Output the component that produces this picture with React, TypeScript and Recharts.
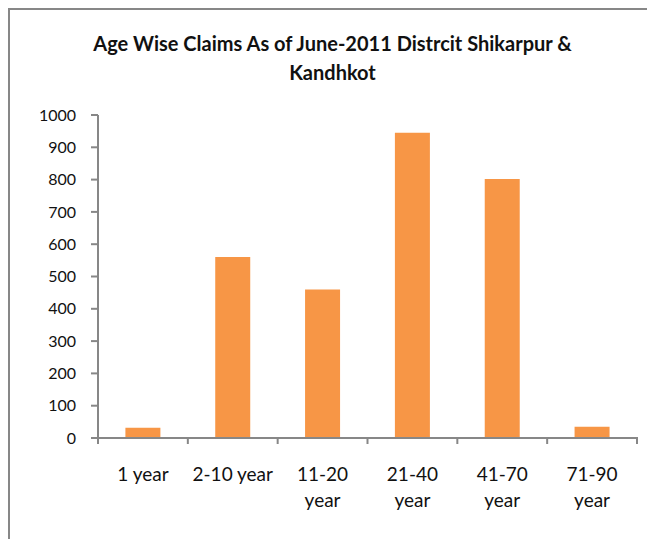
import { BarChart, Bar, XAxis, YAxis } from 'recharts'

// age wise claims, Shikarpur & Kandhkot, June-2011
const AGE_GROUPS = ['1 year', '2-10 year', '11-20 year', '21-40 year', '41-70 year', '71-90 year']
const CLAIMS = [32, 560, 460, 945, 802, 35]
const Y_TICKS = [0, 100, 200, 300, 400, 500, 600, 700, 800, 900, 1000]

const data = AGE_GROUPS.map((name, i) => ({ name, claims: CLAIMS[i] }))

const FONT = 'Lato, "Open Sans", sans-serif'
const AXIS_GREY = '#878787'

// excel-style category tick: mark sits on the band edge, label wraps at the space
function AgeTick(props: any) {
  const { x, y, payload, index, visibleTicksCount } = props
  const half = payload?.offset ?? 45
  const label: string = payload.value
  const lines = label.length > 9 ? label.split(' ') : [label]
  const axisY = y - 9
  return (
    <g>
      <line x1={x - half} x2={x - half} y1={axisY} y2={axisY + 7} stroke={AXIS_GREY} strokeWidth={2} />
      {index === visibleTicksCount - 1 && (
        <line x1={x + half} x2={x + half} y1={axisY} y2={axisY + 7} stroke={AXIS_GREY} strokeWidth={2} />
      )}
      <text x={x} y={y} textAnchor="middle" fill="#111" fontSize={19} fontFamily={FONT}>
        {lines.map((l, i) => (
          <tspan key={i} x={x} dy={i === 0 ? 35 : 26}>{l}</tspan>
        ))}
      </text>
    </g>
  )
}

export default function App() {
  return (
    <div style={{
      position: 'relative', width: 647, height: 531, boxSizing: 'border-box',
      borderLeft: `2px solid ${AXIS_GREY}`, borderTop: `2px solid ${AXIS_GREY}`, background: '#fff',
    }}>
      <div style={{
        position: 'absolute', top: 19, left: 0, width: 645, textAlign: 'center',
        fontFamily: FONT, fontWeight: 700, fontSize: 20, lineHeight: '29px', color: '#111',
      }}>
        Age Wise Claims As of June-2011 Distrcit Shikarpur &amp;<br />Kandhkot
      </div>
      <BarChart width={645} height={529} data={data}
        margin={{ top: 105, right: 18, bottom: 41, left: 0 }} barCategoryGap="30.5%">
        <XAxis dataKey="name" height={60} interval={0} tickLine={false}
          axisLine={{ stroke: AXIS_GREY, strokeWidth: 2 }} tick={<AgeTick />} />
        <YAxis width={88} domain={[0, 1000]} ticks={Y_TICKS} interval={0}
          tickSize={7} tickMargin={15}
          axisLine={{ stroke: AXIS_GREY, strokeWidth: 2 }} tickLine={{ stroke: AXIS_GREY, strokeWidth: 2 }}
          tick={{ fill: '#111', fontSize: 16, fontFamily: FONT }} />
        <Bar dataKey="claims" fill="#F79646" isAnimationActive={false} />
      </BarChart>
    </div>
  )
}
